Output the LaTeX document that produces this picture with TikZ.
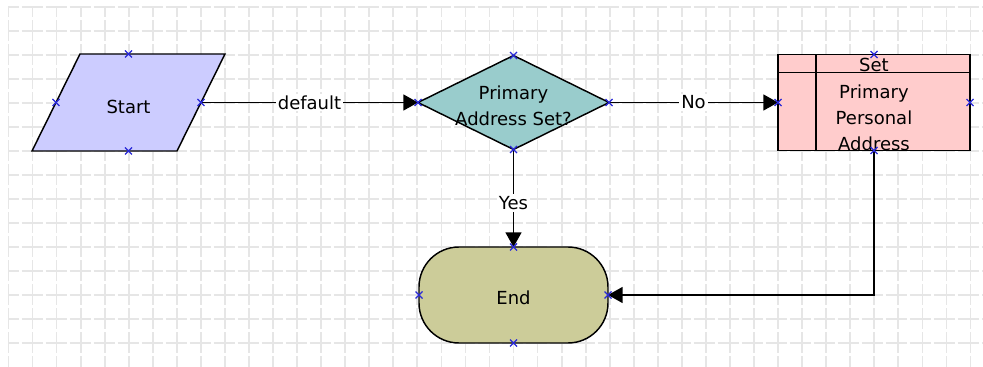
\documentclass[tikz,border=0pt]{standalone}
\usepackage{fontspec}
\setmainfont{DejaVu Sans}
\usetikzlibrary{arrows.meta}
\definecolor{startfill}{HTML}{CCCCFF}
\definecolor{decfill}{HTML}{99CCCC}
\definecolor{boxfill}{HTML}{FFCCCC}
\definecolor{endfill}{HTML}{CCCC99}
\definecolor{markblue}{HTML}{2828D8}
\definecolor{gridgray}{HTML}{E6E6E6}
\begin{document}
\begin{tikzpicture}[x=0.75pt,y=-0.75pt,
  gridline/.style={gridgray, line width=1.3pt, dash pattern=on 15.75pt off 2.25pt, dash phase=7.875pt},
  shapeline/.style={draw=black, line width=1.1pt},
  holder/.style={inner sep=0pt, outer sep=0pt},
  txt/.style={font=\fontsize{13.5pt}{19.5pt}\selectfont, align=center, inner sep=0pt},
  lbl/.style={font=\fontsize{13.5pt}{19.5pt}\selectfont, fill=white, inner sep=1.5pt},
  conn/.style={line width=1.1pt, -{Triangle[length=11pt,width=12pt]}},
  xm/.pic={\draw[markblue, line width=0.9pt] (-3.5,-3.5) -- (3.5,3.5) (-3.5,3.5) -- (3.5,-3.5);}
]
\useasboundingbox (0,0) rectangle (983,367);
% grid
\foreach \i in {0,...,40} {
  \draw[gridline] ({8.5+24.05*\i},7) -- ({8.5+24.05*\i},367);
}
\foreach \j in {0,...,14} {
  \draw[gridline] (8,{7+24*\j}) -- (983,{7+24*\j});
}
% Start (parallelogram)
\node[holder, minimum width=108.75pt, minimum height=72.75pt] (start) at (128.5,102.5) {};
\draw[shapeline, fill=startfill] ([xshift=18pt]start.north west) -- ([xshift=18pt]start.north east)
  -- ([xshift=-18pt]start.south east) -- ([xshift=-18pt]start.south west) -- cycle;
\node[txt] (starttext) at (128.5,106.5) {Start};
% Decision (diamond)
\node[holder, minimum width=143.25pt, minimum height=70.5pt] (dec) at (513.5,102.5) {};
\draw[shapeline, fill=decfill] (dec.north) -- (dec.east) -- (dec.south) -- (dec.west) -- cycle;
\node[txt] (dectext) at (513.5,105.5) {Primary\\Address Set?};
% Sub-process box
\node[holder, shapeline, fill=boxfill, minimum width=144pt, minimum height=72pt] (box) at (874,102.5) {};
\coordinate (hdrl) at ([yshift=-13.5pt]box.north west);
\coordinate (hdrr) at ([yshift=-13.5pt]box.north east);
\coordinate (divt) at ([xshift=28.5pt]box.north west);
\coordinate (divb) at ([xshift=28.5pt]box.south west);
\draw[line width=1.1pt] (hdrl) -- (hdrr);
\draw[line width=1.1pt] (divt) -- (divb);
\node[txt] (boxhead) at (874,65) {Set};
\node[txt] (boxtext) at (874,118) {Primary\\Personal\\Address};
% End (terminator)
\node[holder, shapeline, fill=endfill, rounded corners=30pt, minimum width=141.75pt, minimum height=72pt] (end) at (513.5,295) {};
\node[txt] (endtext) at (513.5,298) {End};
% connectors
\draw[conn] (start.east) -- node[lbl] (l1) {default} (dec.west);
\draw[conn] (dec.east) -- node[lbl] (l2) {No} (box.west);
\draw[conn] (dec.south) -- node[lbl, pos=0.55] (l3) {Yes} (end.north);
\draw[conn] (box.south) |- (end.east);
% connection marks
\foreach \a in {start.north,start.south,start.west,start.east,
                dec.north,dec.south,dec.west,dec.east,
                box.north,box.south,box.west,box.east,
                end.north,end.south,end.west,end.east} {
  \pic at (\a) {xm};
}
\end{tikzpicture}
\end{document}
